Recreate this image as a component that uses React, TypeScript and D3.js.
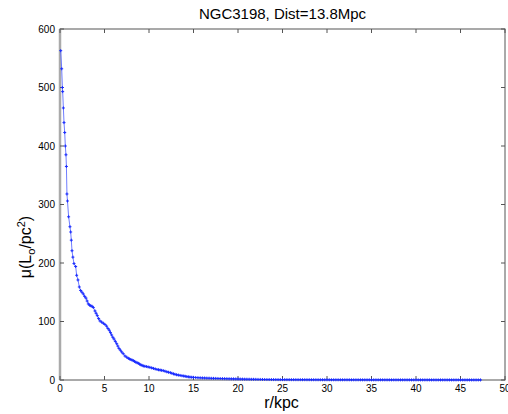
import React, { useEffect, useRef } from "react";
import * as d3 from "d3";

const titleText = "NGC3198, Dist=13.8Mpc";
const xTicks = [0, 5, 10, 15, 20, 25, 30, 35, 40, 45, 50];
const yTicks = [0, 100, 200, 300, 400, 500, 600];

const rInner = [0.08, 0.19, 0.27, 0.3, 0.38, 0.45, 0.53, 0.6, 0.67, 0.72, 0.78, 0.84, 0.97, 1.12, 1.2, 1.27, 1.35, 1.45, 1.57, 1.76, 1.87, 2.02, 2.17, 2.32, 2.47, 2.62, 2.77, 2.92, 3.05, 3.18, 3.32, 3.45, 3.6, 3.74, 3.93, 4.06, 4.19, 4.34, 4.49, 4.68, 4.87, 5.05, 5.24, 5.39, 5.54, 5.67, 5.8, 5.94, 6.07, 6.22, 6.37, 6.5, 6.63, 6.78, 6.93, 7.1, 7.3, 7.5, 7.68, 7.82, 7.96, 8.1, 8.24, 8.38, 8.52, 8.66, 8.8, 8.94, 9.08, 9.22, 9.36, 9.53, 9.7, 9.9, 10.1, 10.3, 10.5, 10.7, 10.9, 11.07, 11.25, 11.42, 11.6, 11.8, 12.0, 12.2, 12.4, 12.57, 12.75, 12.92, 13.1, 13.3, 13.5, 13.7, 13.9, 14.07, 14.25, 14.42, 14.6, 14.8, 15.0];
const muInner = [563, 532, 500, 493, 465, 440, 423, 400, 385, 365, 318, 306, 279, 262, 253, 239, 221, 210, 199, 194, 179, 171, 159, 153, 150, 147, 143, 140, 135, 130, 128, 127, 126, 124, 118, 114, 110, 105, 101, 99, 97, 95, 92, 88, 85, 81, 77, 73, 70, 66, 62, 58, 54, 51, 48, 45, 41, 39, 37, 36, 35, 34, 33, 31.8, 30.5, 29.5, 28.5, 27.2, 26, 25, 24, 23.5, 23, 22.3, 21.6, 20.7, 19.8, 18.9, 18, 17.5, 17, 16.5, 16, 15, 14, 13.2, 12.5, 11.5, 10.5, 9.7, 9, 8.4, 7.8, 7.3, 6.8, 6.3, 5.8, 5.4, 5, 4.7, 4.5];

const rOuter = [15.25, 15.5, 15.75, 16, 16.25, 16.5, 16.75, 17, 17.25, 17.5, 17.75, 18, 18.25, 18.5, 18.75, 19, 19.25, 19.5, 19.75, 20, 20.25, 20.5, 20.75, 21, 21.25, 21.5, 21.75, 22, 22.25, 22.5, 22.75, 23, 23.25, 23.5, 23.75, 24, 24.25, 24.5, 24.75, 25, 25.25, 25.5, 25.75, 26, 26.25, 26.5, 26.75, 27, 27.25, 27.5, 27.75, 28, 28.25, 28.5, 28.75, 29, 29.25, 29.5, 29.75, 30, 30.25, 30.5, 30.75, 31, 31.25, 31.5, 31.75, 32, 32.25, 32.5, 32.75, 33, 33.25, 33.5, 33.75, 34, 34.25, 34.5, 34.75, 35, 35.25, 35.5, 35.75, 36, 36.25, 36.5, 36.75, 37, 37.25, 37.5, 37.75, 38, 38.25, 38.5, 38.75, 39, 39.25, 39.5, 39.75, 40, 40.25, 40.5, 40.75, 41, 41.25, 41.5, 41.75, 42, 42.25, 42.5, 42.75, 43, 43.25, 43.5, 43.75, 44, 44.25, 44.5, 44.75, 45, 45.25, 45.5, 45.75, 46, 46.25, 46.5, 46.75, 47, 47.25];
const muOuter = [4.2, 3.9, 3.7, 3.5, 3.4, 3.2, 3.1, 2.9, 2.8, 2.7, 2.6, 2.5, 2.4, 2.3, 2.2, 2.1, 2.0, 1.9, 1.8, 1.7, 1.6, 1.5, 1.4, 1.35, 1.3, 1.2, 1.15, 1.1, 1.0, 0.95, 0.9, 0.85, 0.8, 0.78, 0.75, 0.7, 0.68, 0.66, 0.64, 0.62, 0.6, 0.58, 0.56, 0.55, 0.53, 0.52, 0.5, 0.49, 0.48, 0.46, 0.45, 0.44, 0.43, 0.42, 0.41, 0.4, 0.39, 0.38, 0.37, 0.36, 0.35, 0.35, 0.34, 0.33, 0.33, 0.32, 0.31, 0.31, 0.3, 0.3, 0.29, 0.28, 0.28, 0.27, 0.27, 0.26, 0.26, 0.25, 0.25, 0.24, 0.24, 0.23, 0.23, 0.22, 0.22, 0.21, 0.21, 0.2, 0.2, 0.2, 0.19, 0.19, 0.18, 0.18, 0.18, 0.17, 0.17, 0.17, 0.16, 0.16, 0.16, 0.15, 0.15, 0.15, 0.14, 0.14, 0.14, 0.14, 0.13, 0.13, 0.13, 0.13, 0.12, 0.12, 0.12, 0.12, 0.11, 0.11, 0.11, 0.11, 0.1, 0.1, 0.1, 0.1, 0.1, 0.1, 0.09, 0.09, 0.09];

const W = 508;
const H = 414;
const M = { left: 60, right: 505, top: 29, bottom: 380 };

export default function App() {
  const ref = useRef<SVGSVGElement | null>(null);

  useEffect(() => {
    document.body.style.margin = "0";
    const svg = d3.select(ref.current);
    svg.selectAll("*").remove();

    const x = d3.scaleLinear().domain([0, 50]).range([M.left, M.right]);
    const y = d3.scaleLinear().domain([0, 600]).range([M.bottom, M.top]);

    const rs = rInner.concat(rOuter);
    const mus = muInner.concat(muOuter);
    const data = rs.map((r, i) => [r, mus[i]] as [number, number]);

    const font = "'Liberation Sans', Arial, Helvetica, sans-serif";
    const axisColor = "#555";

    svg.append("rect").attr("x", 0).attr("y", 0).attr("width", W).attr("height", H).attr("fill", "#fff");

    // frame
    svg.append("rect")
      .attr("x", M.left).attr("y", M.top)
      .attr("width", M.right - M.left).attr("height", M.bottom - M.top)
      .attr("fill", "none").attr("stroke", axisColor).attr("stroke-width", 1);
    svg.append("line").attr("x1", M.left).attr("x2", M.left).attr("y1", M.top).attr("y2", M.bottom)
      .attr("stroke", "#aaa").attr("stroke-width", 2.5);

    const tl = 4;
    const g = svg.append("g");
    xTicks.forEach((t) => {
      const px = x(t);
      g.append("line").attr("x1", px).attr("x2", px).attr("y1", M.bottom).attr("y2", M.bottom - tl).attr("stroke", axisColor);
      g.append("line").attr("x1", px).attr("x2", px).attr("y1", M.top).attr("y2", M.top + tl).attr("stroke", axisColor);
      g.append("text").attr("x", px).attr("y", M.bottom + 12).attr("text-anchor", "middle")
        .attr("font-family", font).attr("font-size", 10).attr("fill", "#000").text(String(t));
    });
    yTicks.forEach((t) => {
      const py = y(t);
      g.append("line").attr("x1", M.left).attr("x2", M.left + tl).attr("y1", py).attr("y2", py).attr("stroke", axisColor);
      g.append("line").attr("x1", M.right).attr("x2", M.right - tl).attr("y1", py).attr("y2", py).attr("stroke", axisColor);
      g.append("text").attr("x", M.left - 5).attr("y", py + 3.5).attr("text-anchor", "end")
        .attr("font-family", font).attr("font-size", 10).attr("fill", "#000").text(String(t));
    });

    // line
    const line = d3.line<[number, number]>().x((d) => x(d[0])).y((d) => y(d[1]));
    svg.append("path").datum(data).attr("d", line).attr("fill", "none")
      .attr("stroke", "#4a5cff").attr("stroke-width", 0.8);

    // markers (+)
    const mk = svg.append("g").attr("stroke", "#1a2cff").attr("stroke-width", 1);
    data.forEach((d) => {
      const px = x(d[0]);
      const py = y(d[1]);
      mk.append("line").attr("x1", px - 1.5).attr("x2", px + 1.5).attr("y1", py).attr("y2", py);
      mk.append("line").attr("x1", px).attr("x2", px).attr("y1", py - 1.5).attr("y2", py + 1.5);
    });

    // title
    svg.append("text").attr("x", (M.left + M.right) / 2).attr("y", 19).attr("text-anchor", "middle")
      .attr("font-family", font).attr("font-size", 15).attr("fill", "#000").text(titleText);

    // x label
    svg.append("text").attr("x", (M.left + M.right) / 2 - 1).attr("y", 408).attr("text-anchor", "middle")
      .attr("font-family", font).attr("font-size", 16).attr("fill", "#000").text("r/kpc");

    // y label
    const yl = svg.append("text").attr("transform", "translate(31,247) rotate(-90)")
      .attr("text-anchor", "middle").attr("font-family", font).attr("font-size", 16).attr("fill", "#000");
    yl.append("tspan").text("μ(L");
    yl.append("tspan").attr("font-size", 11).attr("dy", 4).text("o");
    yl.append("tspan").attr("dy", -4).text("/pc");
    yl.append("tspan").attr("font-size", 11).attr("dy", -6).text("2");
    yl.append("tspan").attr("dy", 6).text(")");
  }, []);

  return (
    <svg ref={ref} width={W} height={H} style={{ display: "block" }} />
  );
}
